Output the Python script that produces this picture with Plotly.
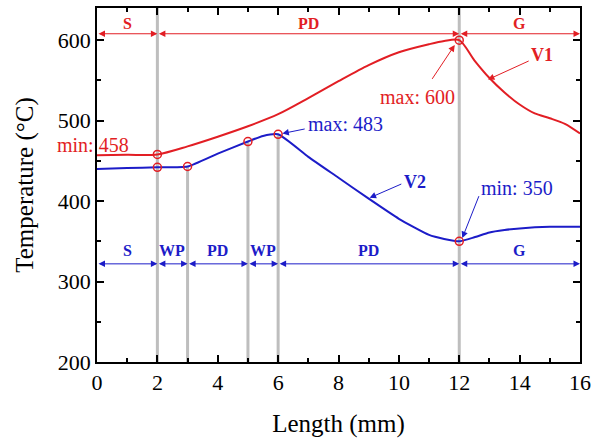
import plotly.graph_objects as go

# ---- data ----
v1_x = [0, 1, 2, 3, 4, 5, 6, 7, 8, 9, 10, 11, 11.5, 12, 12.5, 13, 13.5, 14, 14.5, 15, 15.5, 16]
v1_y = [457, 457.5, 458, 468, 480, 493, 508, 528, 549, 569, 585, 595, 599, 600, 575, 553, 535, 520, 509, 503, 496, 484]

v2_x = [0, 1, 2, 3, 4, 5, 5.5, 6, 7, 8, 9, 10, 11, 11.5, 12, 12.5, 13, 13.5, 14, 15, 16]
v2_y = [440, 441, 442, 443, 459, 474, 481, 483, 455, 429, 403, 378, 358, 353, 350, 355, 361, 364, 366, 368, 368]

v1_mark_x = [2, 12]
v2_mark_x = [2, 3, 5, 6, 12]
full_lines_x = [2, 12]
partial_lines_x = [3, 5, 6]

red_bounds = [0, 2, 12, 16]
red_labels = ["S", "PD", "G"]
blue_bounds = [0, 2, 3, 5, 6, 12, 16]
blue_labels = ["S", "WP", "PD", "WP", "PD", "G"]

x_ticks = [0, 2, 4, 6, 8, 10, 12, 14, 16]
y_ticks = [200, 300, 400, 500, 600]

RED = "rgb(226,30,36)"
BLUE = "rgb(28,28,200)"
GRAY = "rgb(190,190,190)"
FONT = "Liberation Serif"
Y_MIN, Y_MAX = 200, 640


def lookup(xs, ys, x):
    return ys[xs.index(x)]


fig = go.Figure()

# vertical gray lines
shapes = []
for xv in full_lines_x:
    shapes.append(dict(type="line", xref="x", yref="y", x0=xv, x1=xv, y0=Y_MIN, y1=Y_MAX,
                       line=dict(color=GRAY, width=3), layer="below"))
for xv in partial_lines_x:
    shapes.append(dict(type="line", xref="x", yref="y", x0=xv, x1=xv, y0=Y_MIN,
                       y1=lookup(v2_x, v2_y, xv), line=dict(color=GRAY, width=3), layer="below"))

fig.add_trace(go.Scatter(x=v1_x, y=v1_y, mode="lines", line=dict(color=RED, width=2, shape="spline", smoothing=0.8),
                         showlegend=False, hoverinfo="skip"))
fig.add_trace(go.Scatter(x=v2_x, y=v2_y, mode="lines", line=dict(color=BLUE, width=2, shape="spline", smoothing=0.5),
                         showlegend=False, hoverinfo="skip"))
fig.add_trace(go.Scatter(x=v1_mark_x, y=[lookup(v1_x, v1_y, x) for x in v1_mark_x], mode="markers",
                         marker=dict(symbol="circle-open", size=8, color=RED, line=dict(width=1.5)),
                         showlegend=False, hoverinfo="skip"))
fig.add_trace(go.Scatter(x=v2_mark_x, y=[lookup(v2_x, v2_y, x) for x in v2_mark_x], mode="markers",
                         marker=dict(symbol="circle-open", size=8, color=RED, line=dict(width=1.5)),
                         showlegend=False, hoverinfo="skip"))

ann = []


def seg_arrows(bounds, labels, y_arrow, y_text, color):
    for i, lab in enumerate(labels):
        a, b = bounds[i], bounds[i + 1]
        ann.append(dict(x=b, y=y_arrow, ax=a, ay=y_arrow, xref="x", yref="y", axref="x", ayref="y",
                        text="", showarrow=True, arrowhead=2, arrowside="end+start", arrowsize=1.3,
                        arrowwidth=1, arrowcolor=color, standoff=0, startstandoff=0))
        ann.append(dict(x=(a + b) / 2, y=y_text, xref="x", yref="y", text="<b>%s</b>" % lab, showarrow=False,
                        font=dict(family=FONT, size=16, color=color)))


seg_arrows(red_bounds, red_labels, 608, 621, RED)
seg_arrows(blue_bounds, blue_labels, 322, 338, BLUE)


def label(text, tx, ty, color, size=20, bold=False, xshift=0):
    t = "<b>%s</b>" % text if bold else text
    ann.append(dict(x=tx, y=ty, xref="x", yref="y", text=t, showarrow=False, xshift=xshift,
                    font=dict(family=FONT, size=size, color=color)))


def arrow(x0, y0, x1, y1, color):
    ann.append(dict(x=x1, y=y1, ax=x0, ay=y0, xref="x", yref="y", axref="x", ayref="y", text="",
                    showarrow=True, arrowhead=2, arrowsize=1.3, arrowwidth=1, arrowcolor=color, standoff=0))


label("min: 458", 0, 470, RED, xshift=-4)
label("max: 600", 10.63, 529, RED)
arrow(11.07, 550, 11.85, 594, RED)
label("V1", 14.75, 581, RED, size=18, bold=True)
arrow(14.35, 575, 12.95, 551, RED)
label("max: 483", 8.22, 496, BLUE)
arrow(6.93, 490, 6.14, 484, BLUE)
label("V2", 10.55, 424, BLUE, size=18, bold=True)
arrow(10.13, 422, 9.03, 404, BLUE)
label("min: 350", 13.91, 416, BLUE)
arrow(12.67, 408, 12.1, 354, BLUE)

axis_common = dict(showline=True, linecolor="black", linewidth=1.5, mirror="ticks", ticks="inside",
                   ticklen=7, tickwidth=1.5, tickcolor="black", showgrid=False, zeroline=False,
                   tickfont=dict(family=FONT, size=22, color="black"))

fig.update_layout(
    width=595, height=443,
    margin=dict(l=97, r=15, t=8, b=81, autoexpand=False),
    paper_bgcolor="white", plot_bgcolor="white",
    shapes=shapes, annotations=ann,
    xaxis=dict(range=[0, 16], tickvals=x_ticks,
               minor=dict(dtick=1, ticks="inside", ticklen=4, tickwidth=1.5, tickcolor="black"),
               title=dict(text="Length (mm)", font=dict(family=FONT, size=25, color="black"), standoff=20),
               **axis_common),
    yaxis=dict(range=[Y_MIN, Y_MAX], tickvals=y_ticks,
               minor=dict(dtick=50, tick0=0, ticks="inside", ticklen=4, tickwidth=1.5, tickcolor="black"),
               title=dict(text="Temperature (°C)", font=dict(family=FONT, size=25, color="black"), standoff=17),
               **axis_common),
)

fig.write_html("out.html", config={"displayModeBar": False},
               post_script="document.body.style.margin='0';")
